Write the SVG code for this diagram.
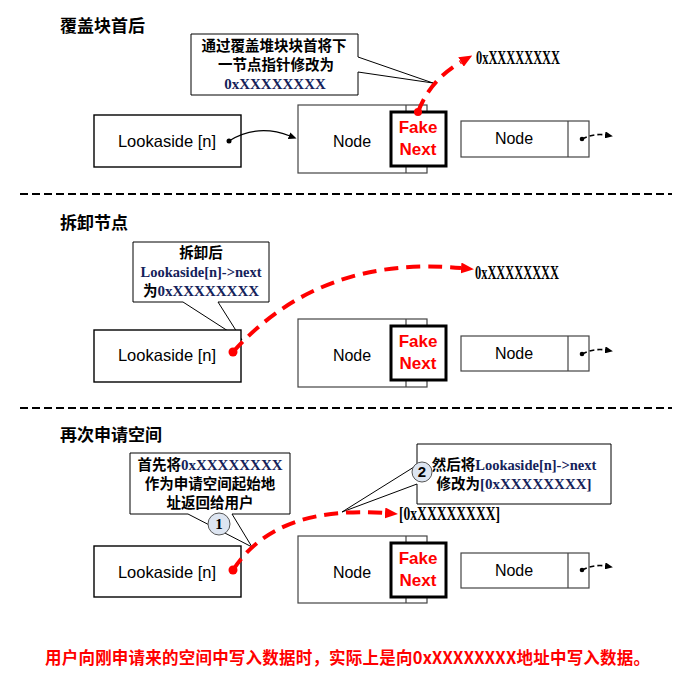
<svg xmlns="http://www.w3.org/2000/svg" width="695" height="674" viewBox="0 0 695 674">
<style>
.title{font-family:"Noto Sans CJK SC",sans-serif;font-weight:bold;font-size:17px;fill:#000}
.cn{font-family:"Noto Sans CJK SC",sans-serif;font-weight:bold;font-size:14.5px;fill:#000}
.lat{font-family:"Liberation Serif",serif;font-weight:bold;font-size:15px;fill:#14225a}
.box{fill:#fff;stroke:#000;stroke-width:1.4}
.node{fill:#fff;stroke:#444;stroke-width:1.2}
.fake{fill:#fff;stroke:#000;stroke-width:3}
.lbl{font-family:"Liberation Sans",Arial,sans-serif;font-size:16.5px;fill:#000;text-anchor:middle}
.fk{font-family:"Liberation Sans",Arial,sans-serif;font-weight:bold;font-size:17px;fill:#ff0000;text-anchor:middle}
.addr{font-family:"Liberation Serif",serif;font-weight:bold;font-size:19px;fill:#000}
.call{fill:#fff;stroke:#000;stroke-width:1}
.sep{stroke:#000;stroke-width:2.2;stroke-dasharray:8 4;fill:none}
.red{stroke:#ff0000;stroke-width:4;stroke-dasharray:14 8;fill:none}
.blk{stroke:#000;stroke-width:1.2;fill:none}
.blkd{stroke:#000;stroke-width:1.6;stroke-dasharray:5 3;fill:none}
.num{fill:#dde5f1;stroke:#555;stroke-width:1}
.numt{font-family:"Liberation Serif",serif;font-weight:bold;font-size:15px;fill:#000;text-anchor:middle}
.foot{font-family:"Noto Sans CJK SC",sans-serif;font-weight:bold;font-size:16.5px;fill:#ff0000}
</style>
<defs>
<marker id="ra" markerUnits="userSpaceOnUse" markerWidth="13" markerHeight="11" refX="0" refY="5.5" orient="auto"><path d="M0,0 L13,5.5 L0,11 z" fill="#ff0000"/></marker>
<marker id="ba" markerUnits="userSpaceOnUse" markerWidth="8" markerHeight="7" refX="1" refY="3.5" orient="auto"><path d="M0,0 L8,3.5 L0,7 z" fill="#000"/></marker>
</defs>

<!-- Section titles -->
<text class="title" x="60" y="32">覆盖块首后</text>
<text class="title" x="60" y="229">拆卸节点</text>
<text class="title" x="60" y="441">再次申请空间</text>

<!-- separators -->
<line class="sep" x1="20" y1="194" x2="672" y2="194"/>
<line class="sep" x1="20" y1="408" x2="672" y2="408"/>

<!-- ===== Section 1 ===== -->
<g id="callout-1">
<path class="call" d="M191,34 H358 V57 L433,83 L358,72 V95 H191 Z"/>
<text class="cn" x="274" y="51" text-anchor="middle">通过覆盖堆块块首将下</text>
<text class="cn" x="276" y="70" text-anchor="middle">一节点指针修改为</text>
<text class="lat" x="275" y="89" text-anchor="middle">0xXXXXXXXX</text>
</g>
<g id="lookaside-1">
<rect class="box" x="94" y="115" width="147" height="52"/>
<text class="lbl" x="167" y="147">Lookaside [n]</text>
<circle cx="229" cy="141" r="2.5" fill="#000"/>
</g>
<g id="node-1a">
<rect class="node" x="298" y="105" width="129" height="68"/>
<line class="node" x1="406" y1="105" x2="406" y2="173"/>
<text class="lbl" x="352" y="147" style="font-size:16px">Node</text>
<rect class="fake" x="391" y="112" width="55" height="54"/>
<text class="fk" x="418" y="133">Fake</text>
<text class="fk" x="418" y="155">Next</text>
</g>
<g id="node-1b">
<rect class="node" x="461" y="121" width="128" height="36"/>
<line class="node" x1="568" y1="121" x2="568" y2="157"/>
<text class="lbl" x="514" y="144" style="font-size:16px">Node</text>
<circle cx="582" cy="139" r="2.3" fill="#000"/>
</g>
<text id="addr-1" class="addr" x="476" y="64" textLength="84" lengthAdjust="spacingAndGlyphs">0xXXXXXXXX</text>

<!-- ===== Section 2 ===== -->
<g id="callout-2">
<path class="call" d="M133,242 H269 V302 H218 L242,340 L183,302 H133 Z"/>
<text class="cn" x="201" y="258" text-anchor="middle">拆卸后</text>
<text class="lat" x="201" y="277" text-anchor="middle" style="font-size:14.5px">Lookaside[n]-&gt;next</text>
<text x="201" y="296" text-anchor="middle"><tspan class="cn">为</tspan><tspan class="lat">0xXXXXXXXX</tspan></text>
</g>
<g id="lookaside-2">
<rect class="box" x="94" y="330" width="147" height="52"/>
<text class="lbl" x="167" y="361">Lookaside [n]</text>
</g>
<g id="node-2a">
<rect class="node" x="298" y="319" width="129" height="68"/>
<line class="node" x1="406" y1="319" x2="406" y2="387"/>
<text class="lbl" x="352" y="361" style="font-size:16px">Node</text>
<rect class="fake" x="391" y="326" width="55" height="54"/>
<text class="fk" x="418" y="347">Fake</text>
<text class="fk" x="418" y="369">Next</text>
</g>
<g id="node-2b">
<rect class="node" x="461" y="336" width="128" height="35"/>
<line class="node" x1="568" y1="336" x2="568" y2="371"/>
<text class="lbl" x="514" y="359" style="font-size:16px">Node</text>
<circle cx="582" cy="354" r="2.3" fill="#000"/>
</g>
<text id="addr-2" class="addr" x="475" y="279" textLength="84" lengthAdjust="spacingAndGlyphs">0xXXXXXXXX</text>

<!-- ===== Section 3 ===== -->
<g id="callout-3a">
<path class="call" d="M130,453 H290 V514 H232 L252,547 L188,514 H130 Z"/>
<text x="210" y="470" text-anchor="middle"><tspan class="cn">首先将</tspan><tspan class="lat">0xXXXXXXXX</tspan></text>
<text class="cn" x="210" y="489" text-anchor="middle">作为申请空间起始地</text>
<text class="cn" x="210" y="508" text-anchor="middle">址返回给用户</text>
</g>
<g id="callout-3b">
<path class="call" d="M417,444 H611 V504 H417 V484 L342,512 L414,467 L417,465 Z"/>
<text x="514" y="470" text-anchor="middle"><tspan class="cn">然后将</tspan><tspan class="lat" style="font-size:14.5px">Lookaside[n]-&gt;next</tspan></text>
<text x="514" y="489" text-anchor="middle"><tspan class="cn">修改为</tspan><tspan class="lat">[0xXXXXXXXX]</tspan></text>
</g>
<g id="lookaside-3">
<rect class="box" x="94" y="546" width="147" height="51"/>
<text class="lbl" x="167" y="578">Lookaside [n]</text>
</g>
<g id="node-3a">
<rect class="node" x="298" y="536" width="129" height="67"/>
<line class="node" x1="406" y1="536" x2="406" y2="603"/>
<text class="lbl" x="352" y="578" style="font-size:16px">Node</text>
<rect class="fake" x="391" y="543" width="55" height="54"/>
<text class="fk" x="418" y="564">Fake</text>
<text class="fk" x="418" y="586">Next</text>
</g>
<g id="node-3b">
<rect class="node" x="461" y="553" width="128" height="35"/>
<line class="node" x1="568" y1="553" x2="568" y2="588"/>
<text class="lbl" x="514" y="576" style="font-size:16px">Node</text>
<circle cx="582" cy="570" r="2.3" fill="#000"/>
</g>
<text id="addr-3" class="addr" x="399" y="520" textLength="101" lengthAdjust="spacingAndGlyphs">[0xXXXXXXXX]</text>

<!-- connectors -->
<g id="connectors">
<path class="blk" d="M229,141 C250,128 272,129 290,136" marker-end="url(#ba)"/>
<path class="blkd" d="M582,139 Q594,133 606,135" marker-end="url(#ba)"/>
<path class="blkd" d="M582,354 Q594,348 606,350" marker-end="url(#ba)"/>
<path class="blkd" d="M582,570 Q594,564 606,566" marker-end="url(#ba)"/>
<path class="red" d="M418,112 Q430,80 461,62" marker-end="url(#ra)"/>
<circle cx="418" cy="112" r="4" fill="#ff0000"/>
<path class="red" d="M233,352 Q320,255 461,268" marker-end="url(#ra)"/>
<circle cx="233" cy="352" r="4.5" fill="#ff0000"/>
<path class="red" d="M233,570 Q275,505 385,513" marker-end="url(#ra)"/>
<circle cx="233" cy="570" r="4.5" fill="#ff0000"/>
</g>

<g id="badge-1">
<circle class="num" cx="219" cy="524" r="11"/>
<text class="numt" x="219" y="529">1</text>
</g>
<g id="badge-2">
<circle class="num" cx="422" cy="472" r="10"/>
<text class="numt" x="422" y="477" style="font-family:'Liberation Sans',Arial,sans-serif">2</text>
</g>

<text id="footer" class="foot" x="45" y="664" textLength="605" lengthAdjust="spacing">用户向刚申请来的空间中写入数据时，实际上是向0xXXXXXXXX地址中写入数据。</text>
</svg>
